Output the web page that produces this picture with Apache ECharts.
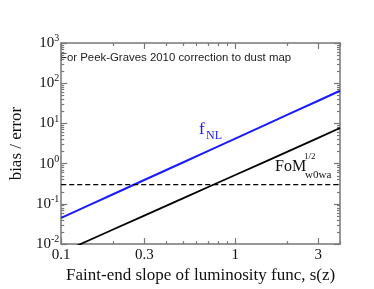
<!DOCTYPE html>
<html><head><meta charset="utf-8">
<script src="https://cdn.jsdelivr.net/npm/echarts@6/dist/echarts.min.js"></script>
<style>html,body{margin:0;padding:0;background:#fff}#c{width:374px;height:289px}</style>
</head><body><div id="c"></div>
<script>
// ---- data ----
var sValues = [0.1, 0.15, 0.2, 0.3, 0.5, 0.7, 1, 1.5, 2, 3, 4];
var fnlBias = [0.045, 0.100, 0.176, 0.392, 1.07, 2.08, 4.2, 9.3, 16.5, 36.6, 65];
var fomBias = [0.0061, 0.0134, 0.0234, 0.0512, 0.137, 0.263, 0.523, 1.14, 1.99, 4.36, 7.7];
var threshold = 0.3;
var xMajorTicks = [0.1, 0.3, 1, 3];
var xMinorTicks = [0.2, 0.4, 0.5, 0.6, 0.7, 0.8, 0.9, 2, 4];
var yMajorTicks = [0.01, 0.1, 1, 10, 100, 1000];
var yMinorTicks = [];
[0.01, 0.1, 1, 10, 100].forEach(function (d) { for (var k = 2; k <= 9; k++) yMinorTicks.push(+(d * k).toPrecision(3)); });

var FRAME = '#777';
var SERIF = 'Liberation Serif';
function pairs(xs, ys) { return xs.map(function (x, i) { return [x, ys[i]]; }); }

function xAx(pos, ticks, len, withLabels, showLine) {
  return {
    type: 'log', position: pos, min: 0.1, max: 4, logBase: 10,
    axisLine: { show: showLine, onZero: false, lineStyle: { color: FRAME, width: 1.5 } },
    axisTick: { show: true, inside: true, length: len, customValues: ticks, lineStyle: { color: FRAME, width: 1.2 } },
    axisLabel: withLabels ? { show: true, customValues: ticks, margin: 3, color: '#111', fontFamily: SERIF, fontSize: 15,
      formatter: function (v) { return String(+(+v).toPrecision(3)); } } : { show: false },
    splitLine: { show: false }, minorTick: { show: false }
  };
}
function yAx(pos, ticks, len, withLabels, showLine) {
  return {
    type: 'log', position: pos, min: 0.01, max: 1000, logBase: 10,
    axisLine: { show: showLine, onZero: false, lineStyle: { color: FRAME, width: 1.5 } },
    axisTick: { show: true, inside: true, length: len, customValues: ticks, lineStyle: { color: FRAME, width: 1.2 } },
    axisLabel: withLabels ? { show: true, customValues: ticks, margin: 2, color: '#111', fontFamily: SERIF, fontSize: 15,
      formatter: function (v) { var k = Math.round(Math.log10(v)); return '10{s|' + k + '}'; },
      rich: { s: { fontSize: 10, fontFamily: SERIF, color: '#111', padding: [0, 0, 9, 0] } } } : { show: false },
    splitLine: { show: false }, minorTick: { show: false }
  };
}

var xs = [xAx('bottom', xMajorTicks, 6, true, true), xAx('bottom', xMinorTicks, 3, false, false),
          xAx('top', xMajorTicks, 6, false, true), xAx('top', xMinorTicks, 3, false, false)];
xs[0].name = 'Faint-end slope of luminosity func, s(z)';
xs[0].nameLocation = 'middle'; xs[0].nameGap = 18;
xs[0].nameTextStyle = { fontFamily: SERIF, fontSize: 17, color: '#111' };
var ys = [yAx('left', yMajorTicks, 6, true, true), yAx('left', yMinorTicks, 3, false, false),
          yAx('right', yMajorTicks, 6, false, true), yAx('right', yMinorTicks, 3, false, false)];
ys[0].name = 'bias / error';
ys[0].nameLocation = 'middle'; ys[0].nameGap = 27;
ys[0].nameTextStyle = { fontFamily: SERIF, fontSize: 17, color: '#111' };

var chart = echarts.init(document.getElementById('c'), null, { renderer: 'canvas' });
chart.setOption({
  animation: false,
  backgroundColor: '#fff',
  grid: { left: 52, right: 34, top: 43, bottom: 43, containLabel: false },
  xAxis: xs,
  yAxis: ys,
  series: [
    { type: 'line', data: pairs(sValues, fnlBias), showSymbol: false, clip: true, smooth: false,
      lineStyle: { color: '#1a1aff', width: 2 } },
    { type: 'line', data: pairs(sValues, fomBias), showSymbol: false, clip: true,
      lineStyle: { color: '#000', width: 1.8 } },
    { type: 'line', data: [[0.1, threshold], [4, threshold]], showSymbol: false, clip: true,
      lineStyle: { color: '#000', width: 1.2, type: [5, 3] } }
  ],
  graphic: [
    { type: 'text', left: 60, top: 52, style: { text: 'For Peek-Graves 2010 correction to dust map', fontFamily: 'Liberation Sans', fontSize: 11.4, fill: '#222' } },
    { type: 'text', left: 199, top: 121, style: { text: 'f', fontFamily: SERIF, fontSize: 17, fill: '#1a1aff' } },
    { type: 'text', left: 206, top: 130, style: { text: 'NL', fontFamily: SERIF, fontSize: 12, fill: '#1a1aff' } },
    { type: 'text', left: 275, top: 159, style: { text: 'FoM', fontFamily: SERIF, fontSize: 16, fill: '#111' } },
    { type: 'text', left: 304, top: 152, style: { text: '1/2', fontFamily: SERIF, fontSize: 9, fill: '#111' } },
    { type: 'text', left: 305, top: 170, style: { text: 'w0wa', fontFamily: SERIF, fontSize: 11, fill: '#111' } }
  ]
});
</script></body></html>
